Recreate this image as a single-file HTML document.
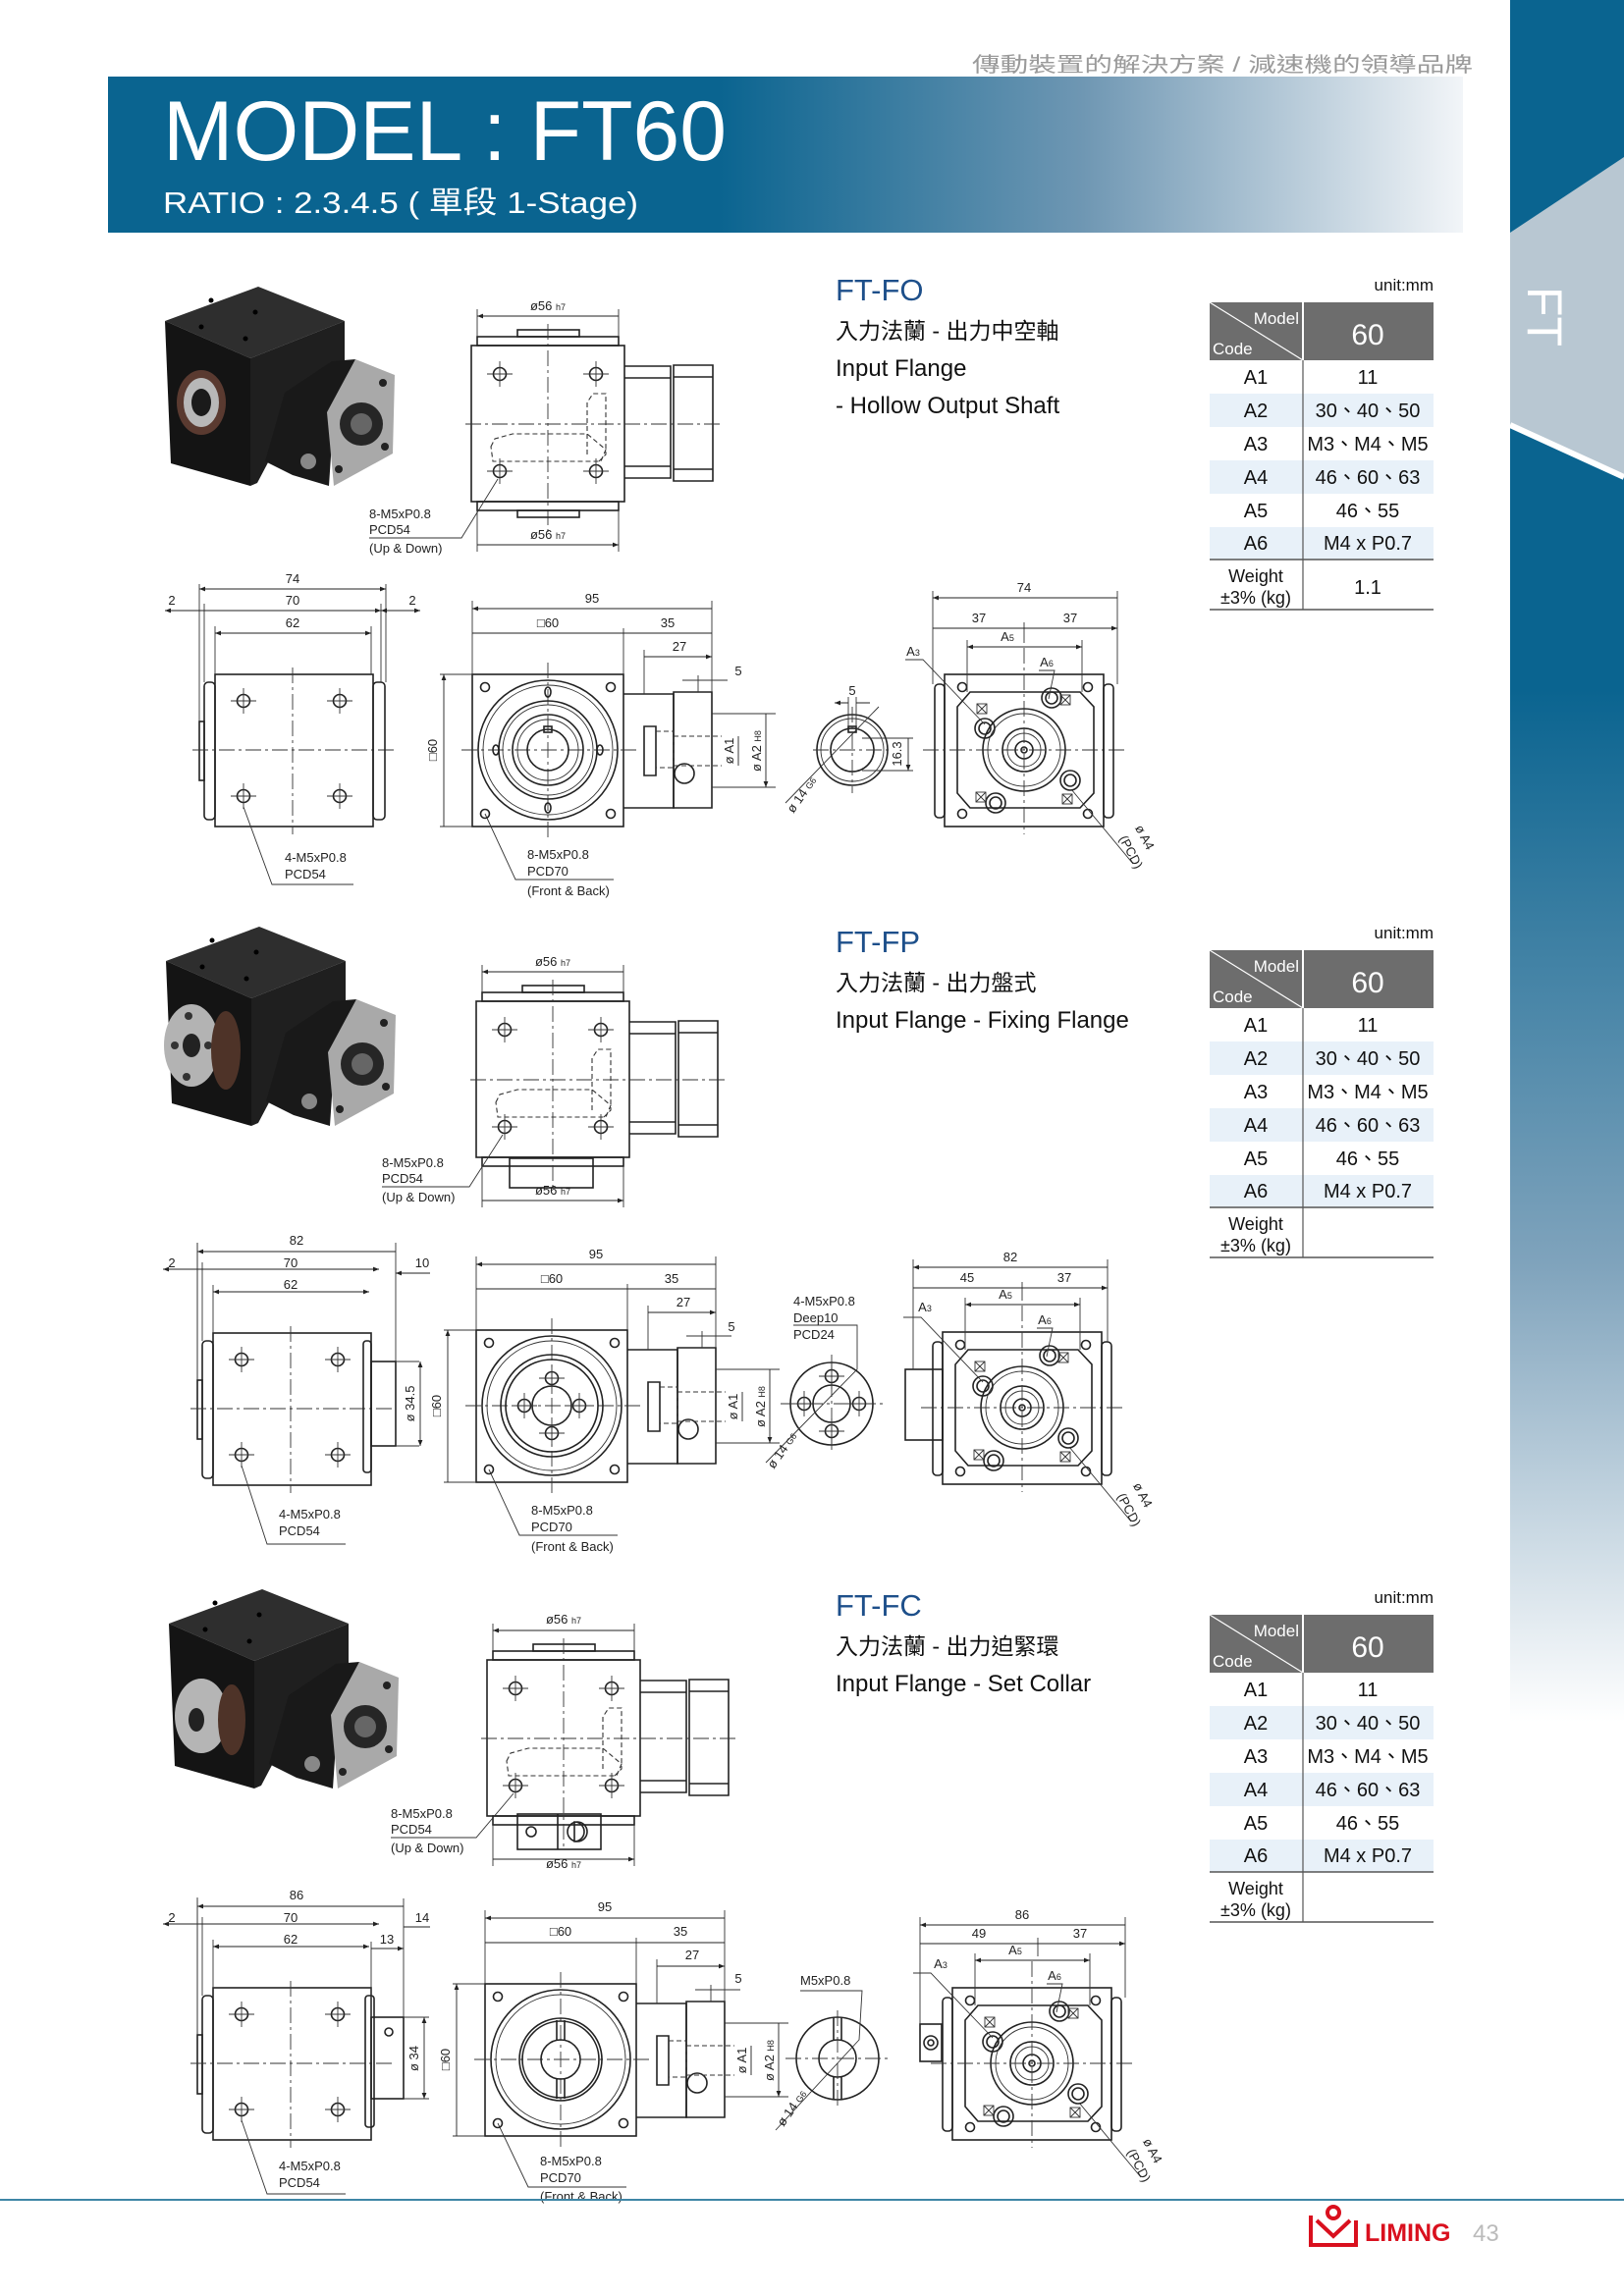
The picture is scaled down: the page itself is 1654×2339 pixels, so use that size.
<!DOCTYPE html>
<html><head><meta charset="utf-8"><style>
html,body{margin:0;padding:0;background:#fff}
svg{display:block}
text{font-family:"Liberation Sans","Noto Sans CJK TC",sans-serif}
.l{stroke:#222;stroke-width:1.6;fill:none}
.t{stroke:#333;stroke-width:0.9;fill:none}
.c{stroke:#333;stroke-width:0.9;fill:none;stroke-dasharray:16 4 3 4}
.d{stroke:#333;stroke-width:1.1;fill:none;stroke-dasharray:5 3}
.dm{stroke:#222;stroke-width:0.9;fill:none;marker-start:url(#ar);marker-end:url(#ar)}
.s{font-size:13px;fill:#222}
.tb{font-size:20px;fill:#111}
</style></head><body>
<svg width="1654" height="2339" viewBox="0 0 1654 2339" xmlns="http://www.w3.org/2000/svg">
<defs>
<marker id="ar" viewBox="0 0 10 10" refX="10" refY="5" markerWidth="9" markerHeight="6" markerUnits="userSpaceOnUse" orient="auto-start-reverse"><path d="M0,1L10,5L0,9z" fill="#222"/></marker>
<linearGradient id="hg" x1="0" x2="1" y1="0" y2="0"><stop offset="0" stop-color="#0a6490"/><stop offset="0.45" stop-color="#0a6490"/><stop offset="0.72" stop-color="#6f97b3"/><stop offset="1" stop-color="#f2f5f8"/></linearGradient>
<linearGradient id="bg" x1="0" x2="0" y1="0" y2="1"><stop offset="0" stop-color="#0a6490"/><stop offset="0.3" stop-color="#0a6490"/><stop offset="0.55" stop-color="#7fa3bc"/><stop offset="0.75" stop-color="#ffffff"/></linearGradient>
<g id="h"><circle r="6.5" class="l"/><path d="M-13,0H13M0,-13V13" class="t"/></g>
<g id="sh"><circle r="4.5" class="l"/></g>
<g id="bx"><circle r="10" class="l"/><circle r="6" class="l"/></g>
<g id="xx"><rect x="-5" y="-5" width="10" height="10" class="t"/><path d="M-5,-5L5,5M5,-5L-5,5" class="t"/></g>
<g id="TV">
 <rect x="480" y="352" width="156" height="159" class="l"/>
 <rect x="486" y="343" width="144" height="9" class="l"/>
 <rect x="527" y="336" width="63" height="7" class="l"/>
 <rect x="486" y="511" width="144" height="9" class="l"/>
 <path d="M636,373H683V487H636M683,373V487M636,385H683M636,475H683" class="l"/>
 <path d="M686,372H726V490H686ZM686,384H726M686,478H726" class="l"/>
 <use href="#h" x="509" y="381"/><use href="#h" x="607" y="381"/><use href="#h" x="509" y="480"/><use href="#h" x="607" y="480"/>
 <path d="M598,463V410L604,401H617V463L610,470" class="d"/>
 <path d="M500,455L504,447L522,442H598L617,458L612,470H502Z" class="d"/>
 <path d="M558,330V545M474,432H736" class="c"/>
 <path d="M486,315V343M630,315V343M486,520V562M630,520V562" class="t"/>
 <path d="M486,322H630M486,555H630" class="dm"/>
</g>
<g id="FV">
 <rect x="481" y="687" width="154" height="155" class="l"/>
 <use href="#sh" x="494" y="700"/><use href="#sh" x="622" y="700"/><use href="#sh" x="494" y="829"/><use href="#sh" x="622" y="829"/>
 <circle cx="558" cy="764" r="71" class="l"/><circle cx="558" cy="764" r="66" class="t"/>
 <path d="M558,675V855M470,764H650" class="c"/>
 <path d="M635,707H686V823H635M656,740H668V790H656Z" class="l"/>
 <path d="M686,705H725V823H686Z" class="l"/>
 <circle cx="697" cy="788" r="10" class="l"/>
 <path d="M668,745H686V782H668M686,750H735M686,780H735" class="d"/>
 <path d="M725,727H790M725,802H790" class="t"/>
 <path d="M481,612V687M725,612V705M635,640V687M656,662V707M711,688V705" class="t"/>
 <path d="M481,620H725M481,645H635M635,645H725M656,669H725" class="dm"/>
 <path d="M695,693H711M741,693H725M711,693H741" class="t"/>
 <path d="M448,687H481M448,842H481" class="t"/>
 <path d="M452,687V842M752,750V780M780,727V802" class="dm"/>
</g>
<g id="LV">
 <rect x="219" y="687" width="161" height="155" class="l"/>
 <rect x="208" y="695" width="11" height="140" rx="4" class="l"/>
 <rect x="203" y="735" width="5" height="60" class="l"/>
 <use href="#h" x="248" y="714"/><use href="#h" x="346" y="714"/><use href="#h" x="248" y="811"/><use href="#h" x="346" y="811"/>
 <path d="M298,680V850M196,764H402" class="c"/>
 <path d="M203,595V735M208,615V695M219,638V687" class="t"/>
 <path d="M168,622H208M208,622H388" class="dm"/>
 <path d="M219,645H378" class="dm"/>
</g>
<g id="RV">
 <rect x="962" y="687" width="162" height="155" class="l"/>
 <rect x="952" y="697" width="10" height="136" rx="4" class="l"/>
 <path d="M988,705H1100L1114,720V808L1100,823H988L975,808V720Z" class="l"/>
 <circle cx="1043" cy="764" r="42" class="l"/><circle cx="1043" cy="764" r="37" class="t"/>
 <circle cx="1043" cy="764" r="22" class="l"/><circle cx="1043" cy="764" r="17" class="t"/><circle cx="1043" cy="764" r="9" class="l"/><circle cx="1043" cy="764" r="3" class="l"/>
 <use href="#sh" x="980" y="700"/><use href="#sh" x="1108" y="700"/><use href="#sh" x="980" y="829"/><use href="#sh" x="1108" y="829"/>
 <use href="#bx" x="1003" y="742"/><use href="#bx" x="1071" y="711"/><use href="#bx" x="1090" y="795"/><use href="#bx" x="1014" y="818"/>
 <use href="#xx" x="1000" y="722"/><use href="#xx" x="1085" y="713"/><use href="#xx" x="1087" y="814"/><use href="#xx" x="999" y="812"/>
 <path d="M1043,660V850M940,764H1146" class="c"/>
 <path d="M985,652V705M1102,652V705" class="t"/>
 <path d="M985,659H1102" class="dm"/>
 <path d="M922,672H940L1003,738M1058,683H1074L1068,712M1091,804L1154,880" class="t"/>
</g>
<g id="PH">
 <polygon points="168,327 263,292 351,327 255,365" fill="#2e2e2e"/>
 <polygon points="168,327 255,365 255,495 174,472" fill="#141414"/>
 <polygon points="255,365 351,327 351,390 300,420 262,492 255,495" fill="#1f1f1f"/>
 <polygon points="290,400 338,368 362,366 340,420 335,495 298,484 270,470" fill="#191919"/>
 <polygon points="362,366 402,382 400,462 340,495 333,420" fill="#a9a9a9"/>
 <circle cx="368" cy="432" r="22" fill="#262626"/><circle cx="368" cy="432" r="11" fill="#666"/>
 <circle cx="390" cy="390" r="4" fill="#222"/><circle cx="345" cy="478" r="4" fill="#222"/><circle cx="392" cy="455" r="4" fill="#222"/>
 <circle cx="314" cy="470" r="8" fill="#888"/>
 <circle cx="215" cy="306" r="2.5" fill="#000"/><circle cx="260" cy="318" r="2.5" fill="#000"/><circle cx="205" cy="333" r="2.5" fill="#000"/><circle cx="250" cy="345" r="2.5" fill="#000"/>
</g>
</defs>

<!-- header -->
<text x="1500" y="73" text-anchor="end" font-size="21" fill="#9a9a9a" textLength="510" lengthAdjust="spacingAndGlyphs">傳動裝置的解決方案 / 減速機的領導品牌</text>
<rect x="110" y="78" width="1380" height="159" fill="url(#hg)"/>
<text x="166" y="163" font-size="86" fill="#fff" textLength="574" lengthAdjust="spacingAndGlyphs">MODEL : FT60</text>
<text x="166" y="217" font-size="31" fill="#fff" textLength="484" lengthAdjust="spacingAndGlyphs">RATIO : 2.3.4.5 ( 單段 1-Stage)</text>

<!-- right bar -->
<rect x="1538" y="0" width="116" height="2339" fill="url(#bg)"/>
<polygon points="1654,160 1538,237 1538,433 1654,486" fill="#b8c7d2"/>
<path d="M1538,433L1654,486" stroke="#fff" stroke-width="6"/>
<text transform="translate(1556,292) rotate(90)" font-size="50" fill="#fff">FT</text>

<!-- SECTION 1 -->
<use href="#PH"/>
<ellipse cx="205" cy="410" rx="25" ry="33" fill="#5a3a30"/><ellipse cx="205" cy="410" rx="18" ry="25" fill="#b8b8b8"/><ellipse cx="205" cy="410" rx="10" ry="14" fill="#1a1a1a"/>
<use href="#TV"/>
<rect x="527" y="520" width="63" height="7" class="l"/>
<text x="558" y="316" text-anchor="middle" class="s">ø56 <tspan font-size="9">h7</tspan></text>
<text x="558" y="549" text-anchor="middle" class="s">ø56 <tspan font-size="9">h7</tspan></text>
<path d="M507,488L470,548H376" class="t"/>
<text x="376" y="528" class="s">8-M5xP0.8</text><text x="376" y="544" class="s">PCD54</text><text x="376" y="563" class="s">(Up &amp; Down)</text>

<use href="#LV"/>
<rect x="380" y="695" width="12" height="140" rx="4" class="l"/>
<path d="M393,595V695M388,615V695M378,638V687" class="t"/>
<path d="M203,600H393" class="dm"/><path d="M428,622H388" class="dm"/>
<text x="298" y="594" text-anchor="middle" class="s">74</text><text x="298" y="616" text-anchor="middle" class="s">70</text><text x="298" y="639" text-anchor="middle" class="s">62</text>
<text x="175" y="616" text-anchor="middle" class="s">2</text><text x="420" y="616" text-anchor="middle" class="s">2</text>
<path d="M248,822L277,901H360" class="t"/>
<text x="290" y="878" class="s">4-M5xP0.8</text><text x="290" y="895" class="s">PCD54</text>

<use href="#FV"/>
<circle cx="558" cy="764" r="50" class="l"/><circle cx="558" cy="764" r="46" class="t"/><circle cx="558" cy="764" r="36" class="l"/><circle cx="558" cy="764" r="31" class="t"/><circle cx="558" cy="764" r="21" class="l"/>
<rect x="554" y="740" width="8" height="6" class="l"/>
<ellipse cx="558" cy="705" rx="3" ry="5" class="l"/><ellipse cx="558" cy="823" rx="3" ry="5" class="l"/><ellipse cx="505" cy="764" rx="3" ry="5" class="l"/><ellipse cx="611" cy="764" rx="3" ry="5" class="l"/>
<text x="603" y="614" text-anchor="middle" class="s">95</text><text x="558" y="639" text-anchor="middle" class="s">□60</text><text x="680" y="639" text-anchor="middle" class="s">35</text><text x="692" y="663" text-anchor="middle" class="s">27</text><text x="752" y="688" text-anchor="middle" class="s">5</text>
<text transform="translate(445,764) rotate(-90)" text-anchor="middle" class="s">□60</text>
<text transform="translate(747,765) rotate(-90)" text-anchor="middle" class="s">ø A1</text>
<text transform="translate(775,765) rotate(-90)" text-anchor="middle" class="s">ø A2 <tspan font-size="9">H8</tspan></text>
<path d="M494,829L525,896H625" class="t"/>
<text x="537" y="875" class="s">8-M5xP0.8</text><text x="537" y="892" class="s">PCD70</text><text x="537" y="912" class="s">(Front &amp; Back)</text>

<circle cx="868" cy="764" r="36" class="l"/><circle cx="868" cy="764" r="32" class="t"/><circle cx="868" cy="764" r="22" class="l"/>
<rect x="864" y="740" width="8" height="6" class="l"/>
<path d="M828,764H908M868,720V808" class="c"/>
<path d="M864,710V740M872,710V740M878,752H930M878,785H930" class="t"/>
<path d="M850,716H864M886,716H872M925,752V785" class="dm"/>
<text x="868" y="708" text-anchor="middle" class="s">5</text>
<text transform="translate(918,768) rotate(-90)" text-anchor="middle" class="s">16.3</text>
<path d="M800,818L895,720" class="t"/>
<text transform="translate(820,812) rotate(-55)" text-anchor="middle" class="s">ø 14 <tspan font-size="9">G6</tspan></text>

<use href="#RV"/>
<rect x="1124" y="697" width="10" height="136" rx="4" class="l"/>
<path d="M950,602V697M1138,602V697M1043,634V655" class="t"/>
<path d="M950,609H1138M950,640H1043M1043,640H1138" class="dm"/>
<text x="1043" y="603" text-anchor="middle" class="s">74</text><text x="997" y="634" text-anchor="middle" class="s">37</text><text x="1090" y="634" text-anchor="middle" class="s">37</text>
<text x="1026" y="653" text-anchor="middle" class="s">A<tspan font-size="9">5</tspan></text><text x="1066" y="679" text-anchor="middle" class="s">A<tspan font-size="9">6</tspan></text><text x="930" y="668" text-anchor="middle" class="s">A<tspan font-size="9">3</tspan></text>
<text transform="translate(1148,870) rotate(62)" text-anchor="middle" class="s">(PCD)</text><text transform="translate(1162,855) rotate(62)" text-anchor="middle" class="s">ø A4</text>

<!-- SECTION 2 -->
<g transform="translate(1,652)"><use href="#PH"/></g>
<ellipse cx="195" cy="1065" rx="28" ry="42" fill="#b3b3b3"/><ellipse cx="195" cy="1065" rx="9" ry="12" fill="#222"/><circle cx="192" cy="1035" r="4" fill="#333"/><circle cx="190" cy="1097" r="4" fill="#333"/><circle cx="178" cy="1065" r="4" fill="#333"/><circle cx="212" cy="1065" r="4" fill="#333"/>
<ellipse cx="230" cy="1070" rx="15" ry="40" fill="#4e3328"/>
<g transform="translate(5,668)"><use href="#TV"/></g>
<rect x="519" y="1180" width="85" height="30" class="l"/>
<text x="563" y="984" text-anchor="middle" class="s">ø56 <tspan font-size="9">h7</tspan></text>
<text x="563" y="1217" text-anchor="middle" class="s">ø56 <tspan font-size="9">h7</tspan></text>
<path d="M512,1156L478,1209H389" class="t"/>
<text x="389" y="1189" class="s">8-M5xP0.8</text><text x="389" y="1205" class="s">PCD54</text><text x="389" y="1224" class="s">(Up &amp; Down)</text>

<g transform="translate(-2,671)"><use href="#LV"/></g>
<rect x="370" y="1366" width="8" height="134" rx="3" class="l"/><rect x="378" y="1387" width="25" height="86" class="l"/>
<path d="M201,1266V1406M403,1266V1387M403,1287V1387M427,1387H403M427,1473H403" class="t"/>
<path d="M201,1275H403M438,1297H403" class="dm"/><path d="M428,1387V1473" class="dm"/>
<text x="302" y="1268" text-anchor="middle" class="s">82</text><text x="296" y="1291" text-anchor="middle" class="s">70</text><text x="296" y="1313" text-anchor="middle" class="s">62</text>
<text x="175" y="1291" text-anchor="middle" class="s">2</text><text x="430" y="1291" text-anchor="middle" class="s">10</text>
<text transform="translate(422,1430) rotate(-90)" text-anchor="middle" class="s">ø 34.5</text>
<path d="M246,1493L272,1573H352" class="t"/>
<text x="284" y="1547" class="s">4-M5xP0.8</text><text x="284" y="1564" class="s">PCD54</text>

<g transform="translate(4,668)"><use href="#FV"/></g>
<circle cx="562" cy="1432" r="52" class="l"/><circle cx="562" cy="1432" r="47" class="l"/><circle cx="562" cy="1432" r="20" class="l"/>
<use href="#h" x="562" y="1404"/><use href="#h" x="562" y="1460"/><use href="#h" x="534" y="1432"/><use href="#h" x="590" y="1432"/>
<text x="607" y="1282" text-anchor="middle" class="s">95</text><text x="562" y="1307" text-anchor="middle" class="s">□60</text><text x="684" y="1307" text-anchor="middle" class="s">35</text><text x="696" y="1331" text-anchor="middle" class="s">27</text><text x="745" y="1356" text-anchor="middle" class="s">5</text>
<text transform="translate(449,1432) rotate(-90)" text-anchor="middle" class="s">□60</text>
<text transform="translate(751,1433) rotate(-90)" text-anchor="middle" class="s">ø A1</text>
<text transform="translate(779,1433) rotate(-90)" text-anchor="middle" class="s">ø A2 <tspan font-size="9">H8</tspan></text>
<path d="M498,1497L529,1564H629" class="t"/>
<text x="541" y="1543" class="s">8-M5xP0.8</text><text x="541" y="1560" class="s">PCD70</text><text x="541" y="1580" class="s">(Front &amp; Back)</text>

<circle cx="847" cy="1430" r="42" class="l"/><circle cx="847" cy="1430" r="19" class="l"/>
<use href="#h" x="847" y="1402"/><use href="#h" x="847" y="1458"/><use href="#h" x="819" y="1430"/><use href="#h" x="875" y="1430"/>
<path d="M795,1430H899M847,1380V1480" class="c"/>
<path d="M780,1490L873,1395L873,1350H808" class="t"/>
<text x="808" y="1330" class="s">4-M5xP0.8</text><text x="808" y="1347" class="s">Deep10</text><text x="808" y="1364" class="s">PCD24</text>
<text transform="translate(800,1480) rotate(-55)" text-anchor="middle" class="s">ø 14 <tspan font-size="9">G6</tspan></text>

<g transform="translate(-2,670)"><use href="#RV"/></g>
<rect x="922" y="1395" width="38" height="72" class="l"/>
<rect x="1122" y="1367" width="10" height="136" rx="4" class="l"/>
<path d="M930,1283V1395M1128,1283V1367M1041,1306V1325" class="t"/>
<path d="M930,1291H1128M930,1312H1041M1041,1312H1128" class="dm"/>
<text x="1029" y="1285" text-anchor="middle" class="s">82</text><text x="985" y="1306" text-anchor="middle" class="s">45</text><text x="1084" y="1306" text-anchor="middle" class="s">37</text>
<text x="1024" y="1323" text-anchor="middle" class="s">A<tspan font-size="9">5</tspan></text><text x="1064" y="1349" text-anchor="middle" class="s">A<tspan font-size="9">6</tspan></text><text x="942" y="1336" text-anchor="middle" class="s">A<tspan font-size="9">3</tspan></text>
<text transform="translate(1146,1540) rotate(62)" text-anchor="middle" class="s">(PCD)</text><text transform="translate(1160,1525) rotate(62)" text-anchor="middle" class="s">ø A4</text>

<!-- SECTION 3 -->
<g transform="translate(4,1327)"><use href="#PH"/></g>
<ellipse cx="205" cy="1748" rx="27" ry="38" fill="#b5b5b5"/><ellipse cx="200" cy="1752" rx="8" ry="12" fill="#222"/>
<ellipse cx="236" cy="1752" rx="14" ry="36" fill="#4e3328"/>
<g transform="translate(16,1339)"><use href="#TV"/></g>
<rect x="527" y="1848" width="85" height="36" class="l"/><path d="M568,1848V1884" class="l"/><circle cx="541" cy="1866" r="5" class="l"/><path d="M585,1856A10,10 0 0 1 585,1876Z" class="l"/><circle cx="588" cy="1866" r="10" class="l"/>
<text x="574" y="1654" text-anchor="middle" class="s">ø56 <tspan font-size="9">h7</tspan></text>
<text x="574" y="1903" text-anchor="middle" class="s">ø56 <tspan font-size="9">h7</tspan></text>
<path d="M523,1827L485,1872H398" class="t"/>
<text x="398" y="1852" class="s">8-M5xP0.8</text><text x="398" y="1868" class="s">PCD54</text><text x="398" y="1887" class="s">(Up &amp; Down)</text>

<g transform="translate(-2,1338)"><use href="#LV"/></g>
<rect x="372" y="2033" width="9" height="134" rx="3" class="l"/><rect x="378" y="2055" width="33" height="83" class="l"/><circle cx="396" cy="2070" r="4" class="l"/>
<path d="M201,1934V2073M411,1934V2055M378,1978V2055M437,2055H411M437,2138H411" class="t"/>
<path d="M201,1942H411M438,1963H411M378,1985H411" class="dm"/><path d="M432,2055V2138" class="dm"/>
<text x="302" y="1935" text-anchor="middle" class="s">86</text><text x="296" y="1958" text-anchor="middle" class="s">70</text><text x="296" y="1980" text-anchor="middle" class="s">62</text>
<text x="175" y="1958" text-anchor="middle" class="s">2</text><text x="430" y="1958" text-anchor="middle" class="s">14</text><text x="394" y="1980" text-anchor="middle" class="s">13</text>
<text transform="translate(426,2097) rotate(-90)" text-anchor="middle" class="s">ø 34</text>
<path d="M246,2160L272,2235H352" class="t"/>
<text x="284" y="2211" class="s">4-M5xP0.8</text><text x="284" y="2228" class="s">PCD54</text>

<g transform="translate(13,1334)"><use href="#FV"/></g>
<circle cx="571" cy="2098" r="42" class="l"/><circle cx="571" cy="2098" r="39" class="l"/><circle cx="571" cy="2098" r="20" class="l"/>
<path d="M567,2058V2078M575,2058V2078M567,2118V2138M575,2118V2138" class="l"/>
<text x="616" y="1947" text-anchor="middle" class="s">95</text><text x="571" y="1972" text-anchor="middle" class="s">□60</text><text x="693" y="1972" text-anchor="middle" class="s">35</text><text x="705" y="1996" text-anchor="middle" class="s">27</text><text x="752" y="2020" text-anchor="middle" class="s">5</text>
<text transform="translate(458,2098) rotate(-90)" text-anchor="middle" class="s">□60</text>
<text transform="translate(760,2099) rotate(-90)" text-anchor="middle" class="s">ø A1</text>
<text transform="translate(788,2099) rotate(-90)" text-anchor="middle" class="s">ø A2 <tspan font-size="9">H8</tspan></text>
<path d="M507,2163L538,2228H638" class="t"/>
<text x="550" y="2206" class="s">8-M5xP0.8</text><text x="550" y="2223" class="s">PCD70</text><text x="550" y="2242" class="s">(Front &amp; Back)</text>

<circle cx="853" cy="2097" r="42" class="l"/><circle cx="853" cy="2097" r="19" class="l"/>
<path d="M849,2055V2078M857,2055V2078M849,2116V2139M857,2116V2139" class="l"/>
<path d="M800,2097H906M853,2048V2146" class="c"/>
<path d="M790,2170L875,2078L878,2028H815" class="t"/>
<text x="815" y="2022" class="s">M5xP0.8</text>
<text transform="translate(810,2150) rotate(-55)" text-anchor="middle" class="s">ø 14 <tspan font-size="9">G6</tspan></text>

<g transform="translate(8,1338)"><use href="#RV"/></g>
<rect x="937" y="2062" width="22" height="38" class="l"/><circle cx="948" cy="2081" r="7" class="l"/><circle cx="948" cy="2081" r="3" class="l"/>
<rect x="1132" y="2035" width="10" height="136" rx="4" class="l"/>
<path d="M937,1953V2062M1146,1953V2035M1057,1974V1993" class="t"/>
<path d="M937,1961H1146M937,1980H1057M1057,1980H1146" class="dm"/>
<text x="1041" y="1955" text-anchor="middle" class="s">86</text><text x="997" y="1974" text-anchor="middle" class="s">49</text><text x="1100" y="1974" text-anchor="middle" class="s">37</text>
<text x="1034" y="1991" text-anchor="middle" class="s">A<tspan font-size="9">5</tspan></text><text x="1074" y="2017" text-anchor="middle" class="s">A<tspan font-size="9">6</tspan></text><text x="958" y="2005" text-anchor="middle" class="s">A<tspan font-size="9">3</tspan></text>
<text transform="translate(1156,2208) rotate(62)" text-anchor="middle" class="s">(PCD)</text><text transform="translate(1170,2193) rotate(62)" text-anchor="middle" class="s">ø A4</text>

<!-- section titles -->
<g fill="#111">
<text x="851" y="306" font-size="31" fill="#1d4f8a">FT-FO</text>
<text x="851" y="345" font-size="23">入力法蘭 - 出力中空軸</text>
<text x="851" y="383" font-size="24">Input Flange</text>
<text x="851" y="421" font-size="24">-  Hollow Output Shaft</text>
<text x="851" y="970" font-size="31" fill="#1d4f8a">FT-FP</text>
<text x="851" y="1009" font-size="23">入力法蘭 - 出力盤式</text>
<text x="851" y="1047" font-size="24">Input Flange - Fixing Flange</text>
<text x="851" y="1646" font-size="31" fill="#1d4f8a">FT-FC</text>
<text x="851" y="1685" font-size="23">入力法蘭 - 出力迫緊環</text>
<text x="851" y="1723" font-size="24">Input Flange - Set Collar</text>
</g>

<!-- tables -->
<g transform="translate(1232,308)">
<text x="228" y="-12" text-anchor="end" font-size="17" fill="#111">unit:mm</text>
<rect x="0" y="0" width="228" height="59" fill="#6d6d6d"/><path d="M95,0V59" stroke="#fff" stroke-width="2"/>
<path d="M0,0L95,59" stroke="#fff" stroke-width="1.2"/>
<text x="91" y="22" text-anchor="end" font-size="17" fill="#fff">Model</text><text x="3" y="53" font-size="17" fill="#fff">Code</text>
<text x="161" y="43" text-anchor="middle" font-size="30" fill="#fff">60</text>
<rect x="0" y="93" width="228" height="34" fill="#e8f1f9"/><rect x="0" y="161" width="228" height="34" fill="#e8f1f9"/><rect x="0" y="229" width="228" height="33" fill="#e8f1f9"/>
<path d="M95,59V313" stroke="#555" stroke-width="1.2"/><path d="M0,262H228M0,313H228" stroke="#555" stroke-width="1.5"/>
<g class="tb" text-anchor="middle">
<text x="47" y="83">A1</text><text x="161" y="83">11</text>
<text x="47" y="117">A2</text><text x="161" y="117">30、40、50</text>
<text x="47" y="151">A3</text><text x="161" y="151">M3、M4、M5</text>
<text x="47" y="185">A4</text><text x="161" y="185">46、60、63</text>
<text x="47" y="219">A5</text><text x="161" y="219">46、55</text>
<text x="47" y="252">A6</text><text x="161" y="252">M4 x P0.7</text>
<text x="47" y="285" font-size="18">Weight</text><text x="47" y="307" font-size="18">±3% (kg)</text>
<text x="161" y="297">1.1</text>
</g></g>
<g transform="translate(1232,968)">
<text x="228" y="-12" text-anchor="end" font-size="17" fill="#111">unit:mm</text>
<rect x="0" y="0" width="228" height="59" fill="#6d6d6d"/><path d="M95,0V59" stroke="#fff" stroke-width="2"/>
<path d="M0,0L95,59" stroke="#fff" stroke-width="1.2"/>
<text x="91" y="22" text-anchor="end" font-size="17" fill="#fff">Model</text><text x="3" y="53" font-size="17" fill="#fff">Code</text>
<text x="161" y="43" text-anchor="middle" font-size="30" fill="#fff">60</text>
<rect x="0" y="93" width="228" height="34" fill="#e8f1f9"/><rect x="0" y="161" width="228" height="34" fill="#e8f1f9"/><rect x="0" y="229" width="228" height="33" fill="#e8f1f9"/>
<path d="M95,59V313" stroke="#555" stroke-width="1.2"/><path d="M0,262H228M0,313H228" stroke="#555" stroke-width="1.5"/>
<g class="tb" text-anchor="middle">
<text x="47" y="83">A1</text><text x="161" y="83">11</text>
<text x="47" y="117">A2</text><text x="161" y="117">30、40、50</text>
<text x="47" y="151">A3</text><text x="161" y="151">M3、M4、M5</text>
<text x="47" y="185">A4</text><text x="161" y="185">46、60、63</text>
<text x="47" y="219">A5</text><text x="161" y="219">46、55</text>
<text x="47" y="252">A6</text><text x="161" y="252">M4 x P0.7</text>
<text x="47" y="285" font-size="18">Weight</text><text x="47" y="307" font-size="18">±3% (kg)</text>
</g></g>
<g transform="translate(1232,1645)">
<text x="228" y="-12" text-anchor="end" font-size="17" fill="#111">unit:mm</text>
<rect x="0" y="0" width="228" height="59" fill="#6d6d6d"/><path d="M95,0V59" stroke="#fff" stroke-width="2"/>
<path d="M0,0L95,59" stroke="#fff" stroke-width="1.2"/>
<text x="91" y="22" text-anchor="end" font-size="17" fill="#fff">Model</text><text x="3" y="53" font-size="17" fill="#fff">Code</text>
<text x="161" y="43" text-anchor="middle" font-size="30" fill="#fff">60</text>
<rect x="0" y="93" width="228" height="34" fill="#e8f1f9"/><rect x="0" y="161" width="228" height="34" fill="#e8f1f9"/><rect x="0" y="229" width="228" height="33" fill="#e8f1f9"/>
<path d="M95,59V313" stroke="#555" stroke-width="1.2"/><path d="M0,262H228M0,313H228" stroke="#555" stroke-width="1.5"/>
<g class="tb" text-anchor="middle">
<text x="47" y="83">A1</text><text x="161" y="83">11</text>
<text x="47" y="117">A2</text><text x="161" y="117">30、40、50</text>
<text x="47" y="151">A3</text><text x="161" y="151">M3、M4、M5</text>
<text x="47" y="185">A4</text><text x="161" y="185">46、60、63</text>
<text x="47" y="219">A5</text><text x="161" y="219">46、55</text>
<text x="47" y="252">A6</text><text x="161" y="252">M4 x P0.7</text>
<text x="47" y="285" font-size="18">Weight</text><text x="47" y="307" font-size="18">±3% (kg)</text>
</g></g>

<!-- footer -->
<rect x="0" y="2240" width="1654" height="2" fill="#3f86a6"/>
<path d="M1335,2257V2287H1381V2262M1341,2262L1358,2278L1375,2262" stroke="#d9101e" stroke-width="4" fill="none"/>
<circle cx="1358" cy="2254" r="8" fill="#d9101e"/><circle cx="1358" cy="2254" r="4" fill="#fff"/>
<text x="1390" y="2283" font-size="25" font-weight="bold" fill="#d9101e">LIMING</text>
<text x="1500" y="2283" font-size="24" fill="#bbbbbb">43</text>
</svg>
</body></html>
